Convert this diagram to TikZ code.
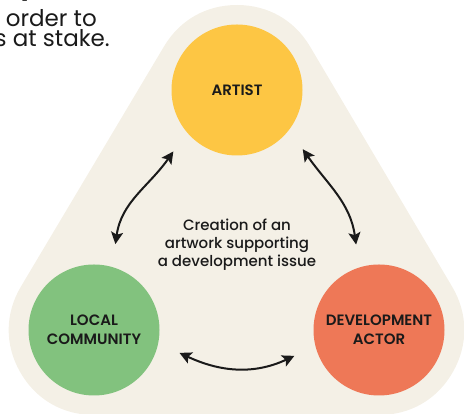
\documentclass[tikz,border=0pt]{standalone}
\usepackage{fontspec}
\setmainfont{Poppins}[BoldFont={* SemiBold}]
\newfontfamily\popmedium{Poppins Medium}
\usetikzlibrary{arrows.meta}
\definecolor{cream}{HTML}{F4F0E6}
\definecolor{sun}{HTML}{FDC644}
\definecolor{leaf}{HTML}{82C27E}
\definecolor{coral}{HTML}{EE7857}
\definecolor{ink}{HTML}{1A1A1A}
\begin{document}
\begin{tikzpicture}[x=1pt,y=1pt,
  party/.style={circle, minimum size=131pt, inner sep=0pt, outer sep=23pt,
    align=center, text=ink, font=\bfseries\fontsize{15}{19}\selectfont},
  link/.style={line width=2pt, draw=ink,
    {Stealth[length=12pt,width=12pt,inset=2.5pt]}-{Stealth[length=12pt,width=12pt,inset=2.5pt]}},
  bodytext/.style={anchor=base east, inner sep=0pt, text=ink, font=\fontsize{23}{20}\selectfont},
]
\useasboundingbox (0,0) rectangle (464,414);
\clip (0,0) rectangle (464,414);
% background: rounded triangle around the three circles
\coordinate (ca) at (237,324);
\coordinate (cl) at (94,84);
\coordinate (cr) at (379,84);
\draw[cream, fill=cream, line width=170pt, line join=round] (ca) -- (cl) -- (cr) -- cycle;
% partial heading text
\node[anchor=base west, inner sep=0pt, text=ink, font=\bfseries\fontsize{30}{30}\selectfont] (heady) at (19,420) {y};
\node[bodytext] (line1) at (97,387) {order to};
\node[bodytext] (line2) at (110,367) {s at stake.};
% parties
\node[party, fill=sun] (artist) at (ca) {ARTIST};
\node[party, fill=leaf] (local) at (cl) {LOCAL\\COMMUNITY};
\node[party, fill=coral] (actor) at (cr) {DEVELOPMENT\\ACTOR};
% centre text
\node[align=center, text=ink, font=\popmedium\fontsize{15}{18}\selectfont] (goal) at (237,169)
  {Creation of an\\artwork supporting\\a development issue};
% connectors
\draw[link] (artist.224) to[out=235,in=82] (local.76);
\draw[link] (artist.318) to[out=305,in=98] (actor.105);
\draw[link] (local.-15) to[out=-25,in=205] (actor.197);
\end{tikzpicture}
\end{document}
